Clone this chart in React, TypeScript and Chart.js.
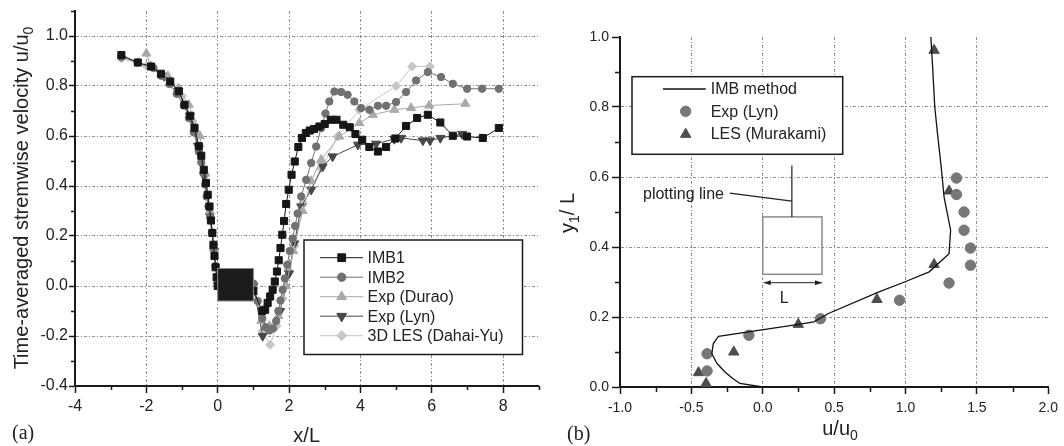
import React, { useEffect, useRef } from "react";
import { Chart, registerables } from "chart.js";
Chart.register(...registerables);

const SANS = '"Liberation Sans", Arial, Helvetica, sans-serif';
const SERIF = '"Liberation Serif", "Times New Roman", serif';
const TEXT = "#222";
const GRID = "#8f8f8f";
const GRID_DASH = [3, 2, 1, 2];
const AXIS = "#1a1a1a";

// ---------- Panel (a) data ----------
const imb1X = [-2.70,-2.24,-1.87,-1.59,-1.33,-1.09,-0.93,-0.77,-0.65,-0.53,-0.46,-0.39,-0.33,-0.28,-0.23,-0.19,-0.15,-0.12,-0.09,-0.06,-0.03,0.00,
  1.00,1.25,1.33,1.40,1.47,1.54,1.60,1.66,1.71,1.76,1.81,1.86,1.92,1.99,2.07,2.16,2.26,2.36,2.47,2.58,2.70,2.85,3.00,3.17,3.33,3.52,3.70,3.86,4.05,4.25,4.49,4.72,4.98,5.28,5.59,5.89,6.24,6.59,6.99,7.43,7.88];
const imb1Y = [0.924,0.894,0.878,0.849,0.818,0.779,0.725,0.681,0.633,0.559,0.521,0.465,0.412,0.365,0.318,0.262,0.212,0.165,0.120,0.075,0.035,0.000,
  -0.020,-0.100,-0.095,-0.068,-0.042,-0.015,0.018,0.058,0.103,0.152,0.205,0.260,0.328,0.385,0.445,0.498,0.556,0.592,0.612,0.622,0.628,0.638,0.648,0.665,0.665,0.645,0.635,0.608,0.585,0.556,0.538,0.556,0.590,0.640,0.672,0.685,0.654,0.601,0.598,0.592,0.632];

const imb2X = [-2.70,-2.24,-1.80,-1.59,-1.35,-1.15,-0.95,-0.81,-0.67,-0.53,-0.46,-0.40,-0.35,-0.31,-0.26,-0.21,-0.16,-0.11,-0.06,0.00,
  1.00,1.12,1.25,1.35,1.45,1.55,1.64,1.70,1.76,1.82,1.88,1.95,2.02,2.10,2.17,2.24,2.34,2.48,2.62,2.76,2.90,3.02,3.13,3.27,3.46,3.64,3.83,4.02,4.25,4.49,4.72,5.00,5.28,5.56,5.89,6.26,6.59,6.99,7.41,7.88];
const imb2Y = [0.916,0.894,0.872,0.841,0.808,0.769,0.722,0.672,0.615,0.538,0.495,0.452,0.405,0.358,0.318,0.278,0.215,0.150,0.080,0.010,
  0.010,-0.060,-0.130,-0.165,-0.178,-0.170,-0.140,-0.100,-0.058,-0.015,0.030,0.085,0.140,0.190,0.240,0.290,0.358,0.425,0.492,0.558,0.632,0.690,0.738,0.778,0.776,0.765,0.738,0.712,0.705,0.721,0.721,0.736,0.776,0.822,0.856,0.836,0.809,0.789,0.789,0.789];

const duraoX = [-2.00,-1.88,-1.40,-1.10,-0.81,-0.50,-0.35,-0.22,-0.10,0.00,
  1.00,1.22,1.45,1.70,1.92,2.12,2.38,2.62,2.90,3.41,3.97,4.35,4.95,5.42,5.93,6.94];
const duraoY = [0.930,0.880,0.840,0.790,0.725,0.600,0.452,0.300,0.150,0.020,
  0.000,-0.140,-0.160,-0.120,0.000,0.140,0.300,0.420,0.505,0.598,0.652,0.685,0.705,0.712,0.722,0.729];

const lynAX = [-1.50,-1.10,-0.78,-0.55,-0.38,-0.22,-0.10,0.00,
  1.00,1.26,1.50,1.75,2.00,2.15,2.34,2.62,2.94,3.22,3.93,4.44,4.95,5.14,5.75,5.95,6.24,6.85];
const lynAY = [0.840,0.780,0.680,0.560,0.440,0.280,0.140,0.020,
  0.000,-0.200,-0.170,-0.100,0.050,0.170,0.318,0.385,0.478,0.518,0.565,0.569,0.588,0.592,0.582,0.582,0.592,0.608];

const les3dX = [-2.70,-2.00,-1.50,-1.00,-0.70,-0.50,-0.35,-0.20,-0.10,0.00,
  1.00,1.25,1.47,1.65,1.82,1.97,2.15,2.40,2.90,3.36,3.97,5.00,5.45,5.95];
const les3dY = [0.910,0.880,0.840,0.760,0.660,0.560,0.440,0.270,0.140,0.020,
  0.000,-0.180,-0.235,-0.160,-0.050,0.065,0.160,0.330,0.470,0.598,0.705,0.800,0.878,0.878];

const seriesALabels = ["IMB1", "IMB2", "Exp (Durao)", "Exp (Lyn)", "3D LES (Dahai-Yu)"];
// square body (x from 0 to 1, y span)
const bodyA = { x0: 0, x1: 1, y0: -0.06, y1: 0.07 };

// ---------- Panel (b) data ----------
const imbBX = [0.00,-0.16,-0.21,-0.265,-0.32,-0.357,-0.346,-0.31,0.25,0.358,0.46,0.81,0.993,1.166,1.305,1.316,1.27,1.25,1.224,1.205,1.19,1.177];
const imbBY = [0.000,0.010,0.024,0.043,0.067,0.095,0.124,0.145,0.179,0.186,0.210,0.271,0.300,0.329,0.381,0.448,0.543,0.629,0.724,0.800,0.914,1.005];
const lynBX = [-0.39,-0.39,-0.097,0.404,0.958,1.305,1.455,1.455,1.41,1.41,1.357,1.357];
const lynBY = [0.095,0.046,0.148,0.195,0.248,0.297,0.348,0.397,0.448,0.500,0.550,0.597];
const lesBX = [-0.397,-0.45,-0.203,0.249,0.80,1.20,1.305,1.20];
const lesBY = [0.010,0.041,0.100,0.179,0.250,0.350,0.560,0.962];
const seriesBLabels = ["IMB method", "Exp (Lyn)", "LES (Murakami)"];

// annotation of plotting line (data units of panel b)
const boxB = { x0: 0, x1: 0.415, y0: 0.322, y1: 0.486 };
const plotLineX = 0.204;
const plotLineTop = 0.633;

const toPts = (xs: number[], ys: number[]) => xs.map((x, i) => ({ x, y: ys[i] }));

type MStyle = "rect" | "circle" | "triangle" | "triangleDown" | "rectRot";

function drawMarker(ctx: CanvasRenderingContext2D, style: MStyle, x: number, y: number, r: number, color: string) {
  ctx.save();
  ctx.beginPath();
  if (style === "rect") {
    const s = r * Math.SQRT1_2;
    ctx.rect(x - s, y - s, 2 * s, 2 * s);
  } else if (style === "circle") {
    ctx.arc(x, y, r, 0, Math.PI * 2);
  } else if (style === "rectRot") {
    ctx.moveTo(x - r, y);
    ctx.lineTo(x, y - r);
    ctx.lineTo(x + r, y);
    ctx.lineTo(x, y + r);
    ctx.closePath();
  } else {
    let rad = style === "triangleDown" ? Math.PI : 0;
    for (let k = 0; k < 3; k++) {
      const px = x + Math.sin(rad) * r;
      const py = y - Math.cos(rad) * r;
      if (k === 0) ctx.moveTo(px, py);
      else ctx.lineTo(px, py);
      rad += (2 * Math.PI) / 3;
    }
    ctx.closePath();
  }
  ctx.fillStyle = color;
  ctx.strokeStyle = color;
  ctx.lineWidth = 1;
  ctx.fill();
  ctx.stroke();
  ctx.restore();
}

const styleA: { color: string; style: MStyle; r: number }[] = [
  { color: "#161616", style: "rect", r: 5 },
  { color: "#717171", style: "circle", r: 3.7 },
  { color: "#a9a9a9", style: "triangle", r: 5.2 },
  { color: "#474747", style: "triangleDown", r: 5.2 },
  { color: "#c6c6c6", style: "rectRot", r: 4.5 },
];

function minorTickPlugin(isMajorX: (v: number) => boolean, isMajorY: (v: number) => boolean, len: number) {
  return {
    id: "minorTicks",
    afterDraw(chart: any) {
      const ctx = chart.ctx as CanvasRenderingContext2D;
      const { x, y } = chart.scales;
      const ca = chart.chartArea;
      ctx.save();
      ctx.strokeStyle = AXIS;
      ctx.lineWidth = 1.5;
      ctx.beginPath();
      x.ticks.forEach((t: any) => {
        if (isMajorX(t.value)) return;
        const px = Math.round(x.getPixelForValue(t.value)) + 0.5;
        ctx.moveTo(px, ca.bottom);
        ctx.lineTo(px, ca.bottom + len);
      });
      y.ticks.forEach((t: any) => {
        if (isMajorY(t.value)) return;
        const py = Math.round(y.getPixelForValue(t.value)) + 0.5;
        ctx.moveTo(ca.left - len, py);
        ctx.lineTo(ca.left, py);
      });
      ctx.stroke();
      ctx.restore();
    },
  };
}

function drawSubText(ctx: CanvasRenderingContext2D, parts: { t: string; sub?: boolean }[], size: number, subSize: number, cx: number, baseline: number) {
  let total = 0;
  const widths = parts.map((p) => {
    ctx.font = `${p.sub ? subSize : size}px ${SANS}`;
    const w = ctx.measureText(p.t).width;
    total += w;
    return w;
  });
  let x = cx - total / 2;
  ctx.textAlign = "left";
  ctx.textBaseline = "alphabetic";
  parts.forEach((p, i) => {
    ctx.font = `${p.sub ? subSize : size}px ${SANS}`;
    ctx.fillText(p.t, x, baseline + (p.sub ? 5 : 0));
    x += widths[i];
  });
}

export default function App() {
  const refA = useRef<HTMLCanvasElement>(null);
  const refB = useRef<HTMLCanvasElement>(null);

  useEffect(() => {
    // ---------- Chart (a) ----------
    const kx = (v: number) => Math.round(v);
    const ky = (v: number) => Math.round(v * 10);
    const majXA = (v: number) => kx(v) % 2 === 0;
    const majYA = (v: number) => ky(v) % 2 === 0;

    const datasetsA = [
      [imb1X, imb1Y],
      [imb2X, imb2Y],
      [duraoX, duraoY],
      [lynAX, lynAY],
      [les3dX, les3dY],
    ].map(([xs, ys], i) => {
      const s = styleA[i];
      return {
        label: seriesALabels[i],
        data: toPts(xs as number[], ys as number[]),
        showLine: true,
        borderColor: s.color,
        backgroundColor: s.color,
        borderWidth: 1,
        pointStyle: s.style === "triangleDown" ? "triangle" : s.style,
        pointRotation: s.style === "triangleDown" ? 180 : 0,
        pointRadius: s.r,
        pointBorderWidth: 1,
        pointBorderColor: s.color,
        pointBackgroundColor: s.color,
        tension: 0,
      };
    });

    const extrasA = {
      id: "extrasA",
      afterDatasetsDraw(chart: any) {
        const ctx = chart.ctx as CanvasRenderingContext2D;
        const { x, y } = chart.scales;
        const x0 = x.getPixelForValue(bodyA.x0);
        const x1 = x.getPixelForValue(bodyA.x1);
        const y0 = y.getPixelForValue(bodyA.y1);
        const y1 = y.getPixelForValue(bodyA.y0);
        ctx.save();
        ctx.fillStyle = "#1c1c1c";
        ctx.fillRect(x0, y0, x1 - x0, y1 - y0);
        ctx.strokeStyle = "#8a8a8a";
        ctx.lineWidth = 1;
        ctx.strokeRect(x0, y0, x1 - x0, y1 - y0);
        ctx.restore();
      },
      afterDraw(chart: any) {
        const ctx = chart.ctx as CanvasRenderingContext2D;
        ctx.save();
        // legend
        const lx = 304, ly = 240, lw = 218.5, lh = 114.5;
        ctx.fillStyle = "#fff";
        ctx.fillRect(lx, ly, lw, lh);
        ctx.strokeStyle = AXIS;
        ctx.lineWidth = 1.5;
        ctx.strokeRect(lx, ly, lw, lh);
        seriesALabels.forEach((lab, i) => {
          const s = styleA[i];
          const ry = 257.7 + i * 19.5;
          ctx.strokeStyle = s.color;
          ctx.lineWidth = 1;
          ctx.beginPath();
          ctx.moveTo(320, ry);
          ctx.lineTo(363, ry);
          ctx.stroke();
          drawMarker(ctx, s.style, 341.7, ry, s.r + 0.5, s.color);
          ctx.fillStyle = TEXT;
          ctx.font = `16px ${SANS}`;
          ctx.textAlign = "left";
          ctx.textBaseline = "middle";
          ctx.fillText(lab, 367.5, ry + 1);
        });
        // axis titles
        ctx.fillStyle = TEXT;
        ctx.save();
        ctx.translate(27.5, 198);
        ctx.rotate(-Math.PI / 2);
        drawSubText(ctx, [{ t: "Time-averaged stremwise velocity u/u" }, { t: "0", sub: true }], 20, 14, 0, 0);
        ctx.restore();
        ctx.font = `20px ${SANS}`;
        ctx.textAlign = "center";
        ctx.textBaseline = "alphabetic";
        ctx.fillText("x/L", 306.7, 441.5);
        ctx.font = `20px ${SERIF}`;
        ctx.textAlign = "left";
        ctx.fillText("(a)", 12, 439);
        ctx.restore();
      },
    };

    const chartA = new Chart(refA.current!, {
      type: "scatter",
      data: { datasets: datasetsA as any },
      options: {
        animation: false,
        responsive: false,
        devicePixelRatio: 1,
        events: [],
        layout: { padding: { top: 11, right: 6, left: 0, bottom: 0 } },
        plugins: { legend: { display: false }, tooltip: { enabled: false } },
        scales: {
          x: {
            type: "linear",
            min: -4,
            max: 9,
            afterFit: (s: any) => { s.height = 60; },
            ticks: {
              stepSize: 1,
              autoSkip: false,
              maxRotation: 0,
              padding: 4,
              color: TEXT,
              font: { family: SANS, size: 16 },
              callback: (v: any) => (majXA(v) ? String(kx(v)) : ""),
            },
            grid: {
              color: (c: any) => {
                const v = c.tick ? kx(c.tick.value) : 1;
                return v % 2 === 0 && v > -4 && v < 9 ? GRID : "rgba(0,0,0,0)";
              },
              lineWidth: 1,
              tickLength: 7,
              tickWidth: 1.5,
              tickColor: (c: any) => (c.tick && majXA(c.tick.value) ? AXIS : "rgba(0,0,0,0)"),
            },
            border: { color: AXIS, width: 2, dash: GRID_DASH },
          },
          y: {
            type: "linear",
            min: -0.4,
            max: 1.1,
            afterFit: (s: any) => { s.width = 75; },
            ticks: {
              stepSize: 0.1,
              autoSkip: false,
              padding: 1,
              color: TEXT,
              font: { family: SANS, size: 16 },
              callback: (v: any) => {
                const k = ky(v);
                return k % 2 === 0 && k <= 10 ? (k / 10).toFixed(1) : "";
              },
            },
            grid: {
              color: (c: any) => {
                const k = c.tick ? ky(c.tick.value) : 1;
                return k % 2 === 0 && k > -4 && k <= 10 ? GRID : "rgba(0,0,0,0)";
              },
              lineWidth: 1,
              tickLength: 6,
              tickWidth: 1.5,
              tickColor: (c: any) => (c.tick && majYA(c.tick.value) ? AXIS : "rgba(0,0,0,0)"),
            },
            border: { color: AXIS, width: 2, dash: GRID_DASH },
          },
        },
      } as any,
      plugins: [extrasA, minorTickPlugin(majXA, majYA, 4)],
    });

    // ---------- Chart (b) ----------
    const kxb = (v: number) => Math.round(v * 4);
    const kyb = (v: number) => Math.round(v * 10);
    const majXB = (v: number) => kxb(v) % 2 === 0;
    const majYB = (v: number) => kyb(v) % 2 === 0;

    const extrasB = {
      id: "extrasB",
      afterDatasetsDraw(chart: any) {
        const ctx = chart.ctx as CanvasRenderingContext2D;
        const { x, y } = chart.scales;
        const X = (v: number) => x.getPixelForValue(v);
        const Y = (v: number) => y.getPixelForValue(v);
        ctx.save();
        // body outline
        ctx.strokeStyle = "#8a8a8a";
        ctx.lineWidth = 1.5;
        ctx.strokeRect(X(boxB.x0), Y(boxB.y1), X(boxB.x1) - X(boxB.x0), Y(boxB.y0) - Y(boxB.y1));
        // plotting line
        ctx.strokeStyle = "#222";
        ctx.lineWidth = 1.2;
        ctx.beginPath();
        ctx.moveTo(X(plotLineX), Y(boxB.y1));
        ctx.lineTo(X(plotLineX), Y(plotLineTop));
        ctx.moveTo(X(-0.231), Y(0.554));
        ctx.lineTo(X(plotLineX), Y(0.531));
        ctx.stroke();
        ctx.fillStyle = TEXT;
        ctx.font = `16px ${SANS}`;
        ctx.textAlign = "right";
        ctx.textBaseline = "alphabetic";
        ctx.fillText("plotting line", X(-0.272), Y(0.536));
        // L arrow
        const ay = Y(0.298);
        const ax0 = X(boxB.x0) + 1, ax1 = X(boxB.x1);
        ctx.lineWidth = 1;
        ctx.beginPath();
        ctx.moveTo(ax0, ay);
        ctx.lineTo(ax1, ay);
        ctx.stroke();
        ctx.beginPath();
        ctx.moveTo(ax0, ay);
        ctx.lineTo(ax0 + 7, ay - 2.5);
        ctx.lineTo(ax0 + 7, ay + 2.5);
        ctx.closePath();
        ctx.moveTo(ax1, ay);
        ctx.lineTo(ax1 - 7, ay - 2.5);
        ctx.lineTo(ax1 - 7, ay + 2.5);
        ctx.closePath();
        ctx.fill();
        ctx.textAlign = "center";
        ctx.textBaseline = "middle";
        ctx.fillText("L", X(0.15), Y(0.253));
        ctx.restore();
      },
      afterDraw(chart: any) {
        const ctx = chart.ctx as CanvasRenderingContext2D;
        ctx.save();
        const lx = 87, ly = 76.7, lw = 210.7, lh = 77.6;
        ctx.fillStyle = "#fff";
        ctx.fillRect(lx, ly, lw, lh);
        ctx.strokeStyle = AXIS;
        ctx.lineWidth = 1.5;
        ctx.strokeRect(lx, ly, lw, lh);
        const rows = [89, 111.3, 133.3];
        ctx.strokeStyle = "#111";
        ctx.lineWidth = 1.3;
        ctx.beginPath();
        ctx.moveTo(118, rows[0]);
        ctx.lineTo(160.7, rows[0]);
        ctx.stroke();
        drawMarker(ctx, "circle", 140.7, rows[1], 5.2, "#777");
        drawMarker(ctx, "triangle", 140.7, rows[2] + 1, 6, "#4d4d4d");
        ctx.fillStyle = TEXT;
        ctx.font = `16px ${SANS}`;
        ctx.textAlign = "left";
        ctx.textBaseline = "middle";
        seriesBLabels.forEach((lab, i) => ctx.fillText(lab, 165.7, rows[i] + 1));
        // titles
        drawSubText(ctx, [{ t: "u/u" }, { t: "0", sub: true }], 20, 14, 295, 435);
        ctx.save();
        ctx.translate(28.5, 213);
        ctx.rotate(-Math.PI / 2);
        drawSubText(ctx, [{ t: "y" }, { t: "1", sub: true }, { t: "/ L" }], 20, 14, 0, 0);
        ctx.restore();
        ctx.font = `20px ${SERIF}`;
        ctx.textAlign = "left";
        ctx.textBaseline = "alphabetic";
        ctx.fillText("(b)", 22, 440);
        ctx.restore();
      },
    };

    const chartB = new Chart(refB.current!, {
      type: "scatter",
      data: {
        datasets: [
          {
            label: seriesBLabels[0],
            data: toPts(imbBX, imbBY),
            showLine: true,
            borderColor: "#111",
            borderWidth: 1.3,
            pointRadius: 0,
            tension: 0,
          },
          {
            label: seriesBLabels[1],
            data: toPts(lynBX, lynBY),
            showLine: false,
            pointStyle: "circle",
            pointRadius: 5.2,
            pointBackgroundColor: "#777",
            pointBorderColor: "#777",
            pointBorderWidth: 1,
          },
          {
            label: seriesBLabels[2],
            data: toPts(lesBX, lesBY),
            showLine: false,
            pointStyle: "triangle",
            pointRadius: 6,
            pointBackgroundColor: "#4d4d4d",
            pointBorderColor: "#4d4d4d",
            pointBorderWidth: 1,
          },
        ] as any,
      },
      options: {
        animation: false,
        responsive: false,
        devicePixelRatio: 1,
        events: [],
        layout: { padding: { top: 37, right: 11, left: 0, bottom: 0 } },
        plugins: { legend: { display: false }, tooltip: { enabled: false } },
        scales: {
          x: {
            type: "linear",
            min: -1,
            max: 2,
            afterFit: (s: any) => { s.height = 59; },
            ticks: {
              stepSize: 0.25,
              autoSkip: false,
              maxRotation: 0,
              padding: 6,
              color: TEXT,
              font: { family: SANS, size: 14 },
              callback: (v: any) => {
                const k = kxb(v);
                return k % 2 === 0 ? (k / 4).toFixed(1) : "";
              },
            },
            grid: {
              color: (c: any) => {
                const k = c.tick ? kxb(c.tick.value) : 1;
                return k % 2 === 0 && k > -4 && k < 8 ? GRID : "rgba(0,0,0,0)";
              },
              lineWidth: 1,
              tickLength: 7,
              tickWidth: 1.5,
              tickColor: (c: any) => (c.tick && majXB(c.tick.value) ? AXIS : "rgba(0,0,0,0)"),
            },
            border: { color: AXIS, width: 2, dash: GRID_DASH },
          },
          y: {
            type: "linear",
            min: 0,
            max: 1,
            afterFit: (s: any) => { s.width = 75; },
            ticks: {
              stepSize: 0.1,
              autoSkip: false,
              padding: 3,
              color: TEXT,
              font: { family: SANS, size: 14 },
              callback: (v: any) => {
                const k = kyb(v);
                return k % 2 === 0 ? (k / 10).toFixed(1) : "";
              },
            },
            grid: {
              color: (c: any) => {
                const k = c.tick ? kyb(c.tick.value) : 1;
                return k % 2 === 0 && k > 0 && k < 10 ? GRID : "rgba(0,0,0,0)";
              },
              lineWidth: 1,
              tickLength: 8,
              tickWidth: 1.5,
              tickColor: (c: any) => (c.tick && majYB(c.tick.value) ? AXIS : "rgba(0,0,0,0)"),
            },
            border: { color: AXIS, width: 2, dash: GRID_DASH },
          },
        },
      } as any,
      plugins: [extrasB, minorTickPlugin(majXB, majYB, 5)],
    });

    return () => {
      chartA.destroy();
      chartB.destroy();
    };
  }, []);

  return (
    <div style={{ position: "fixed", left: 0, top: 0, width: 1064, height: 446, background: "#fff" }}>
      <canvas ref={refA} width={545} height={446} style={{ position: "absolute", left: 0, top: 0 }} />
      <canvas ref={refB} width={519} height={446} style={{ position: "absolute", left: 545, top: 0 }} />
    </div>
  );
}
